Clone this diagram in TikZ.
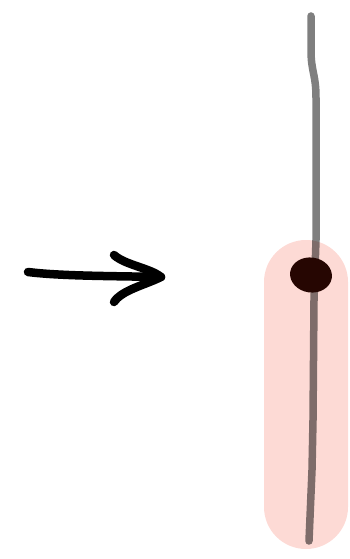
\documentclass[tikz,border=0pt]{standalone}
\usetikzlibrary{calc,shapes.geometric}
\definecolor{capsulepink}{RGB}{253,218,213}
\definecolor{dotbrown}{RGB}{38,6,2}
\tikzset{
  ink/.style={line width=8.5bp, line cap=round, line join=round, black},
  strand/.style={line width=7.5bp, line cap=round, line join=round, black, opacity=0.5},
  capsule/.style={fill=capsulepink, draw=none, rounded corners=42bp},
}
\begin{document}
\begin{tikzpicture}[x=1bp, y=-1bp]
  \useasboundingbox (0,0) rectangle (349,559);
  % pink capsule behind the lower part of the strand
  \fill[capsule] (264,240) rectangle (348,549);
  % the strand, hand-drawn with a gentle bend near the top
  \coordinate (top) at (311,16);
  \coordinate (bottom) at (309,541);
  \draw[strand] (top) -- (311,50) .. controls (311,72) and (316,74) .. (316,98)
     -- (316,240) -- (314,300) -- (313,420) -- (312,470) -- (bottom);
  % marked point on the strand
  \node[ellipse, fill=dotbrown, minimum width=42bp, minimum height=35bp, inner sep=0pt, rotate=-8] (dot) at (311,275) {};
  % arrow pointing right
  \coordinate (tail) at (28,272);
  \coordinate (tip) at (161,277);
  \coordinate (barbup) at (114,255);
  \coordinate (barbdown) at (114,302);
  \draw[ink] (tail) .. controls (60,276) and (110,276) .. (tip);
  \draw[ink] (barbup) .. controls (125,265) and (150,268) .. (tip)
     .. controls (145,285) and (122,290) .. (barbdown);
\end{tikzpicture}
\end{document}
